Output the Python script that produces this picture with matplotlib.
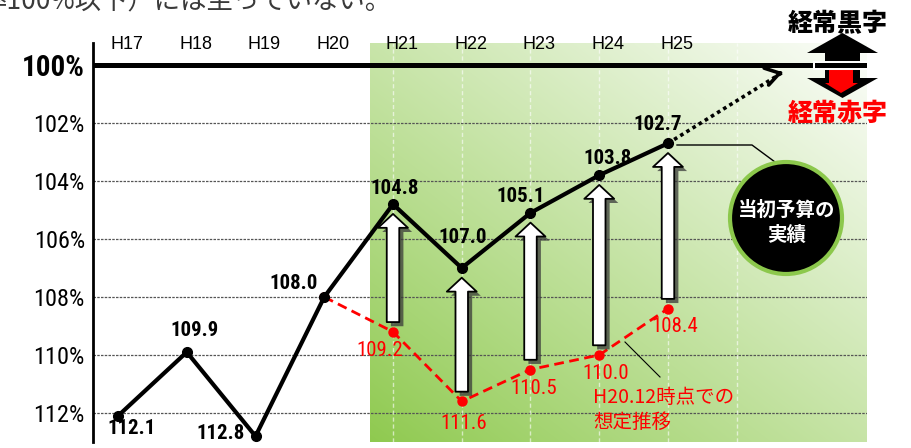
import os
import numpy as np
import matplotlib
matplotlib.use("Agg")
import matplotlib.pyplot as plt
from matplotlib import font_manager
from matplotlib.font_manager import FontProperties
from matplotlib.patches import FancyArrowPatch, Circle, Polygon, ArrowStyle
from matplotlib.transforms import Affine2D, blended_transform_factory
import matplotlib.patheffects as pe

# data
years = ["H17", "H18", "H19", "H20", "H21", "H22", "H23", "H24", "H25"]
actual = [112.1, 109.9, 112.8, 108.0, 104.8, 107.0, 105.1, 103.8, 102.7]
plan_idx = [3, 4, 5, 6, 7, 8]  # H20 .. H25
plan = [108.0, 109.2, 111.6, 110.5, 110.0, 108.4]
yticks = [100, 102, 104, 106, 108, 110, 112]
ytick_labels = ["100%", "102%", "104%", "106%", "108%", "110%", "112%"]

# label offsets (pixels)
actual_off = [(14, -13), (8, 22), (-35, 3), (-31, 14), (2, 16), (1, 31), (-10, 16), (8, 17), (-10, 19)]
plan_off = [None, (-13, -19), (2, -22), (3, -19), (6, -18), (7, -18)]


# look for a narrow / condensed sans face
def find_narrow(weight):
    order = ["liberation", "roboto", "noto sans", "open sans", "lato", "inter", "dejavu"]
    best = None
    for f in font_manager.fontManager.ttflist:
        fn = os.path.basename(f.fname).lower()
        nm = f.name.lower()
        if "cjk" in nm or "mono" in nm or f.style != "normal":
            continue
        narrow = "narrow" in fn or "narrow" in nm or f.stretch == "condensed" or (
            "condensed" in fn and not any(k in fn for k in ("semi", "extra", "ultra")))
        if not narrow:
            continue
        w = f.weight if isinstance(f.weight, int) else font_manager.weight_dict.get(f.weight, 400)
        pref = next((i for i, k in enumerate(order) if nm.startswith(k)), len(order))
        key = (abs(w - weight), pref)
        if best is None or key < best[0]:
            best = (key, f.fname)
    return best[1] if best else None


reg_file = find_narrow(400)
bold_file = find_narrow(700)
scale = 1.0 if reg_file else 0.86


def fp_reg(size):
    if reg_file:
        return FontProperties(fname=reg_file, size=size)
    return FontProperties(family="Liberation Sans", size=size * scale)


def fp_bold(size):
    if bold_file:
        return FontProperties(fname=bold_file, size=size)
    return FontProperties(family="Liberation Sans", weight="bold", size=size * scale)


CJK = "Noto Sans CJK JP"
plt.rcParams["font.family"] = ["Liberation Sans", CJK, "DejaVu Sans"]

W, H = 912, 448
fig = plt.figure(figsize=(W / 100, H / 100), dpi=100)
ax = fig.add_axes([93 / W, 6 / H, 774 / W, 399 / H])
# pixel coords measured from top-left of the figure
PX = Affine2D().scale(1 / 100, -1 / 100).translate(0, H / 100) + fig.dpi_scale_trans

x = np.arange(len(years))
xlim = (-0.364, 10.895)
ylim = (113.0, 99.241)

# green gradient panel
ny, nx = 200, 300
u = np.linspace(0, 1, nx)[None, :]
h = np.linspace(1, 0, ny)[:, None]
t = np.clip(0.5 * u + 0.52 * h, 0, 1) ** 0.95
green = np.array([0.56, 0.79, 0.31])
img = (1 - t)[..., None] * green + t[..., None] * np.array([0.98, 0.99, 0.97])
ax.imshow(img, extent=(3.668, xlim[1], ylim[1], ylim[0]), origin="lower",
          aspect="auto", zorder=0, interpolation="bilinear")

# grid
for v in yticks[1:]:
    ax.axhline(v, color="#555555", lw=0.9, ls=(0, (2, 1)), zorder=1)
for xi in range(4, 10):
    ax.axvline(xi, color="white", lw=1, alpha=0.6, ls=(0, (3, 2)), zorder=1)
ax.axhline(100, color="black", lw=3.6, zorder=2)

# planned (red) line
ax.plot(plan_idx, plan, color="#ff0000", lw=2, ls=(0, (3.5, 2)), marker="o",
        ms=6.5, zorder=3)
# actual (black) line
ax.plot(x, actual, color="black", lw=3, marker="o", ms=7, zorder=4)

# white improvement arrows with shadow
for xi, lo in zip(plan_idx[1:], plan[1:]):
    arr = FancyArrowPatch((xi, lo), (xi, actual[xi]),
                          arrowstyle=ArrowStyle.Simple(head_length=10, head_width=21.5, tail_width=9),
                          mutation_scale=1, shrinkA=7, shrinkB=7, fc="white", ec="black", lw=1.3,
                          zorder=3.5,
                          path_effects=[pe.SimplePatchShadow(offset=(3, -3), shadow_rgbFace="#3a3a3a", alpha=0.75),
                                        pe.Normal()])
    ax.add_patch(arr)

# value labels
for xi, v, off in zip(x, actual, actual_off):
    ax.annotate(f"{v:.1f}", (xi, v), xytext=off, textcoords="offset pixels",
                ha="center", va="center", fontproperties=fp_bold(15), zorder=6)
for xi, v, off in zip(plan_idx, plan, plan_off):
    if off is None:
        continue
    ax.annotate(f"{v:.1f}", (xi, v), xytext=off, textcoords="offset pixels",
                ha="center", va="center", fontproperties=fp_reg(15), color="#ff0000",
                zorder=6)

# dotted outlook arrow
end = (9.67, 100.25)
ax.plot([x[-1], end[0]], [actual[-1], end[1]], color="black", lw=2.6, ls=(0, (1, 1)), zorder=4)
ax.annotate("", xy=end, xytext=(end[0] - 0.04, end[1] + 0.025),
            arrowprops=dict(arrowstyle="->,head_length=0.7,head_width=0.45", lw=2.6,
                            color="black", mutation_scale=14, shrinkA=0, shrinkB=0), zorder=4)

# year labels on top
tr = blended_transform_factory(ax.transData, ax.transAxes)
for xi, yr in zip(x, years):
    ax.text(xi + 0.13, 0.995, yr, transform=tr, ha="center", va="center",
            fontsize=13, zorder=6)

ax.set_xlim(*xlim)
ax.set_ylim(*ylim)
ax.set_xticks([])
ax.set_yticks(yticks)
ax.set_yticklabels(ytick_labels)
for i, lab in enumerate(ax.get_yticklabels()):
    lab.set_fontproperties(fp_bold(21) if i == 0 else fp_reg(17.5))
ax.tick_params(axis="y", length=0, pad=5.8)
for s in ["top", "right", "bottom"]:
    ax.spines[s].set_visible(False)
ax.spines["left"].set_linewidth(2)
ax.spines["left"].set_zorder(5)

# surplus / deficit arrows at the right
big = Polygon([(842.5, 33), (878, 53), (860, 53), (860, 78), (878, 78), (842.5, 98),
               (807, 78), (825, 78), (825, 53), (807, 53)], closed=True,
              fc="black", ec="none", transform=PX, clip_on=False, zorder=7)
ax.add_patch(big)
red = Polygon([(829, 70), (853, 70), (853, 83), (858, 83), (841, 93), (825, 83), (829, 83)],
              closed=True, fc="#ff0000", ec="none", transform=PX, clip_on=False, zorder=7.5)
ax.add_patch(red)
ax.axhline(100, xmin=0.935, xmax=1.0, color="black", lw=3.6, zorder=8,
           path_effects=[pe.withStroke(linewidth=6.5, foreground="white")])
ax.text(837.5, 23.5, "経常黒字", transform=PX, ha="center", va="center", fontsize=18,
        fontweight="black", family=[CJK], color="black", zorder=9)
ax.text(837.5, 113, "経常赤字", transform=PX, ha="center", va="center", fontsize=18,
        fontweight="black", family=[CJK], color="#ff0000", zorder=9)

# callout circle
ax.plot([677, 752, 775], [145, 145, 162], color="black", lw=1, transform=PX, zorder=5)
ax.add_patch(Circle((786, 218), 56, transform=PX, fc="black", ec="#8cc84c", lw=3,
                    clip_on=False, zorder=8))
ax.text(787, 223, "当初予算の\n実績", transform=PX, ha="center", va="center",
        fontsize=14, fontweight="bold", color="white", family=[CJK],
        linespacing=1.35, zorder=9)

# red caption
ax.plot([625, 660], [342, 377], color="black", lw=0.8, transform=PX, zorder=5)
ax.text(593, 410, "H20.12時点での\n想定推移", transform=PX, ha="left", va="center",
        fontsize=14, color="#ff0000", family=[CJK], linespacing=1.25, zorder=9)

# clipped sentence at the very top
fig.text(392 / W, 1 - 9 / H, "率100%以下）には至っていない。", ha="right", va="baseline",
         fontsize=19, color="#3a3a3a", family=[CJK])

fig.savefig("out.png", dpi=100)
